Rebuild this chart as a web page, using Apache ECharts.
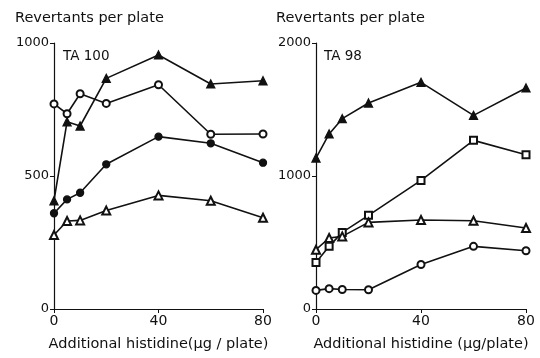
<!DOCTYPE html>
<html><head><meta charset="utf-8">
<script src="https://cdn.jsdelivr.net/npm/echarts@6/dist/echarts.min.js"></script>
<style>html,body{margin:0;padding:0;background:#fff}#c{width:540px;height:358px}</style>
</head><body><div id="c"></div>
<script>
var histidine = [0, 5, 10, 20, 40, 60, 80];
var xTicks = [0, 40, 80];
// TA 100
var ta100FilledTri = [407, 704, 688, 867, 955, 846, 858];
var ta100OpenCircle = [771, 734, 809, 773, 843, 657, 658];
var ta100FilledCircle = [360, 412, 437, 544, 648, 623, 550];
var ta100OpenTri = [278, 331, 333, 370, 427, 407, 343];
// TA 98
var ta98FilledTri = [1135, 1316, 1431, 1549, 1704, 1456, 1662];
var ta98OpenSquare = [350, 471, 576, 704, 967, 1268, 1160];
var ta98OpenTri = [446, 534, 546, 651, 669, 664, 609];
var ta98OpenCircle = [140, 153, 147, 145, 335, 471, 438];

var FONT = 'DejaVu Sans';
var INK = '#111';
function pairs(v){ return histidine.map(function(x,i){ return [x, v[i]]; }); }
function ser(idx, data, symbol, size){
  return {type:'line', xAxisIndex:idx, yAxisIndex:idx, data:pairs(data), symbol:symbol, symbolSize:size||7,
    lineStyle:{color:INK, width:1.6}, itemStyle:{color:INK, borderColor:INK, borderWidth:1.3},
    emphasis:{disabled:true}, animation:false, z: 3};
}
function xAx(idx, name){
  return {type:'value', gridIndex:idx, min:0, max:80, interval:40,
    axisLine:{lineStyle:{color:INK, width:1.2}}, axisTick:{length:4, lineStyle:{color:INK}},
    splitLine:{show:false}, axisLabel:{color:INK, fontFamily:FONT, fontSize:14, margin:5},
    name:name, nameLocation:'middle', nameGap:28,
    nameTextStyle:{color:INK, fontFamily:FONT, fontSize:14.5}};
}
function yAx(idx, max, interval){
  return {type:'value', gridIndex:idx, min:0, max:max, interval:interval,
    axisLine:{show:true, lineStyle:{color:INK, width:1.2}}, axisTick:{show:true, length:4, lineStyle:{color:INK}},
    splitLine:{show:false}, axisLabel:{color:INK, fontFamily:FONT, fontSize:13, margin:5,
      formatter:function(v){ return String(v); }}};
}
var chart = echarts.init(document.getElementById('c'), null, {renderer:'canvas'});
chart.setOption({
  backgroundColor:'#fff',
  animation:false,
  grid:[{left:54, top:43, width:209, height:266}, {left:316, top:43, width:210, height:266}],
  xAxis:[xAx(0, 'Additional histidine(µg / plate)'), xAx(1, 'Additional histidine (µg/plate)')],
  yAxis:[yAx(0, 1000, 500), yAx(1, 2000, 1000)],
  graphic:[
    {type:'text', left:15, top:11, style:{text:'Revertants per plate', font:'14.5px "DejaVu Sans"', fill:INK}},
    {type:'text', left:276, top:11, style:{text:'Revertants per plate', font:'14.5px "DejaVu Sans"', fill:INK}},
    {type:'text', left:63, top:49, style:{text:'TA 100', font:'13.5px "DejaVu Sans"', fill:INK}},
    {type:'text', left:324, top:49, style:{text:'TA 98', font:'13.5px "DejaVu Sans"', fill:INK}}
  ],
  series:[
    ser(0, ta100FilledTri, 'triangle', 8),
    ser(0, ta100OpenCircle, 'emptyCircle', 7),
    ser(0, ta100FilledCircle, 'circle', 7),
    ser(0, ta100OpenTri, 'emptyTriangle', 8),
    ser(1, ta98FilledTri, 'triangle', 8),
    ser(1, ta98OpenSquare, 'emptyRect', 7),
    ser(1, ta98OpenTri, 'emptyTriangle', 8),
    ser(1, ta98OpenCircle, 'emptyCircle', 7)
  ]
});
</script></body></html>
